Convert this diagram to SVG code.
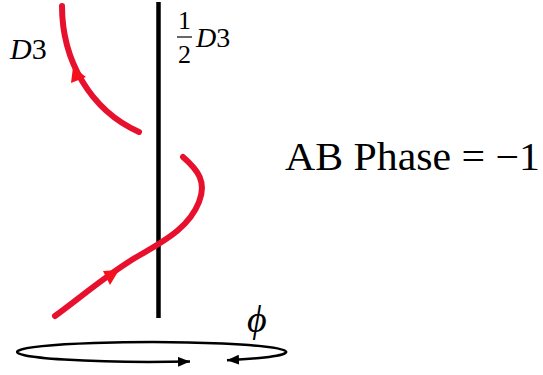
<svg xmlns="http://www.w3.org/2000/svg" width="543" height="375" viewBox="0 0 543 375">
<style>
.red{fill:none;stroke:#E8112D;stroke-width:6;stroke-linecap:round}
.rhead{fill:#F5101E}
.blk{fill:none;stroke:#000;stroke-width:2.5}
text{font-family:'Liberation Serif','DejaVu Serif',serif;fill:#000}
.it{font-style:italic}
</style>
<defs>
<marker id="ah" viewBox="0 0 12 10" refX="12" refY="5" markerWidth="12" markerHeight="10" markerUnits="userSpaceOnUse" orient="auto-start-reverse">
<path d="M0,0 L12,5 L0,10 z" fill="#000"/>
</marker>
</defs>
<g id="axis">
<line x1="158.5" y1="2" x2="158.5" y2="318" stroke="#000" stroke-width="4.5"/>
</g>
<g id="connectors">
<path class="red" d="M62,6 C62,60 90,110 139,132"/>
<polygon class="rhead" points="73,67 71,83 86,77"/>
<path class="red" d="M183,157 C198,170 207,182 199,202 C190,225 170,238 140,255 C110,272 80,298 55,316"/>
<polygon class="rhead" points="119,270 103,271 110,285"/>
<path class="blk" d="M227,360.3 A134.5,10 0 1 0 190,361.6" marker-start="url(#ah)" marker-end="url(#ah)"/>
</g>
<g id="label-D3">
<text x="10" y="59" font-size="30"><tspan class="it">D</tspan>3</text>
</g>
<g id="label-halfD3">
<text x="184.5" y="29" font-size="26" text-anchor="middle">1</text>
<line x1="177" y1="37" x2="192" y2="37" stroke="#000" stroke-width="1.2"/>
<text x="184.5" y="63" font-size="26" text-anchor="middle">2</text>
<text x="196" y="47" font-size="28"><tspan class="it">D</tspan>3</text>
</g>
<g id="label-phase">
<text x="285" y="170" font-size="40" textLength="255" lengthAdjust="spacingAndGlyphs">AB Phase = −1</text>
</g>
<g id="label-phi">
<text class="it" x="247" y="332" font-size="38">ϕ</text>
</g>
</svg>
